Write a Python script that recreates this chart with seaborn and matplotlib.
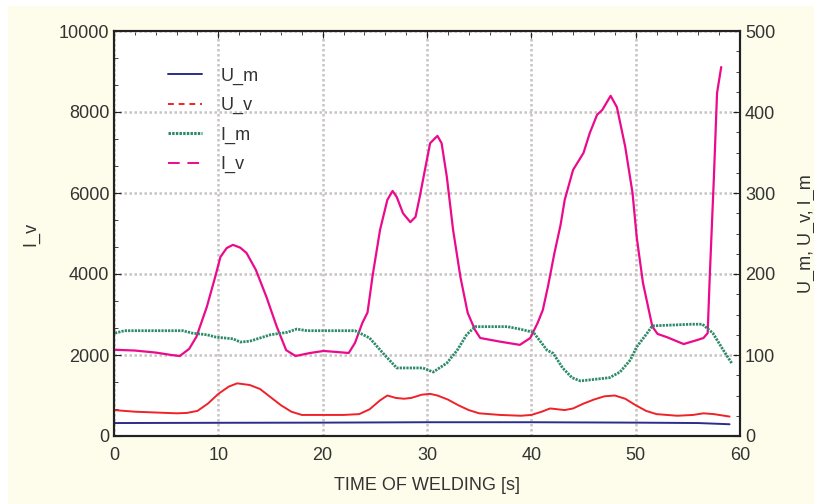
import numpy as np
import pandas as pd
import matplotlib
matplotlib.use("Agg")
import matplotlib.pyplot as plt
from matplotlib.lines import Line2D
from matplotlib.patches import Rectangle
from matplotlib.ticker import MultipleLocator
import seaborn as sns

# values
iv_t = [0, 2, 4, 5.5, 6.3, 7.2, 7.9, 8.9, 9.7, 10.2, 10.8, 11.4, 12.1, 12.7, 13.6, 14.6,
        15.6, 16.5, 17.4, 18.8, 20.1, 22.5, 23.1, 23.8, 24.3, 24.8, 25.5, 26.2, 26.7,
        27.1, 27.7, 28.4, 28.9, 29.3, 29.8, 30.3, 31.0, 31.4, 31.9, 32.5, 33.2, 33.9,
        34.6, 35.1, 37.0, 38.9, 39.9, 40.6, 41.1, 41.6, 42.2, 42.8, 43.2, 44.0, 45.0,
        45.6, 46.3, 46.8, 47.6, 48.2, 49.0, 49.7, 50.1, 50.7, 51.6, 52.1, 53.0, 54.6,
        55.9, 56.5, 56.9, 57.1, 57.5, 57.8, 58.2]
iv_val = [2130, 2110, 2060, 2000, 1975, 2150, 2450, 3190, 3930, 4420, 4640, 4720, 4650,
          4520, 4100, 3440, 2700, 2120, 1975, 2050, 2100, 2050, 2300, 2790, 3050, 3980,
          5090, 5830, 6050, 5900, 5500, 5280, 5410, 5900, 6570, 7230, 7410, 7230, 6400,
          5090, 3930, 3040, 2620, 2420, 2330, 2250, 2420, 2790, 3110, 3700, 4500, 5210,
          5830, 6570, 6990, 7480, 7930, 8050, 8400, 8120, 7140, 6000, 4910, 3780, 2700,
          2520, 2440, 2270, 2370, 2420, 2540, 3930, 6400, 8470, 9110]

im_t = [0.1, 1, 3, 5, 6.6, 7.5, 8.9, 9.8, 11.4, 12.1, 13, 14, 15, 16.6, 17.5, 18.5,
        20, 23.1, 24.5, 25.8, 27.1, 29.6, 30.6, 31.9, 32.9, 33.8, 34.6, 37.7, 38.9,
        40.2, 41.5, 42.1, 43.0, 43.9, 44.7, 47.5, 48.5, 49.5, 50.1, 51.1, 51.6, 55.4,
        56.4, 57.4, 58.4, 59.2]
im_val = [127, 130, 130, 130, 130, 127, 125, 122, 120, 116, 117, 121, 125, 128, 132, 130,
          130, 130, 121, 102, 84, 84, 79, 90, 106, 125, 135, 135, 132, 128, 106, 102,
          84, 72, 68, 72, 79, 94, 110, 127, 136, 138, 138, 127, 106, 90]

uv_t = [0, 2, 4, 6, 7, 8, 9, 10, 11, 11.8, 13, 14, 15, 16, 17, 18, 20, 22, 23.5, 24.5,
        25.5, 26.2, 27, 27.8, 28.5, 29.5, 30.3, 31, 32, 33, 34, 35, 37, 39, 40, 41,
        41.8, 42.5, 43.2, 44, 45, 46, 47, 48, 49, 50, 51, 52, 54, 55.5, 56.5, 57.5,
        58.5, 59]
uv_val = [32, 30, 29, 28, 28.5, 31, 40, 52, 61, 65, 63, 58, 48, 38, 30, 26, 26, 26, 27,
          33, 44, 50, 47, 46, 47, 51, 52, 50, 45, 38, 32, 28, 26, 25, 26, 30, 34, 33,
          32, 34, 40, 45, 49, 50, 46, 38, 31, 27, 25, 26, 28, 27, 25, 24]

um_t = [0, 10, 20, 30, 40, 50, 56, 59]
um_val = [16, 16.3, 16.5, 17, 17, 16.5, 16, 14.5]

sns.set_style("white")
plt.rcParams['font.family'] = ['Liberation Sans', 'DejaVu Sans']

fig = plt.figure(figsize=(8.14, 5.04), dpi=100)
fig.patch.set_facecolor('white')
fig.patches.append(Rectangle((8 / 814, 0), 1, 1 - 6 / 504, transform=fig.transFigure,
                             facecolor='#fefdeb', edgecolor='none', zorder=-10))

ax = fig.add_axes([114 / 814, 68 / 504, 626 / 814, 405 / 504])
ax.set_facecolor('white')
ax2 = ax.twinx()

c_um, c_uv, c_im, c_iv = '#2b2d8c', '#ee2228', '#2e8b68', '#ec0a8c'

sns.lineplot(x=iv_t, y=iv_val, ax=ax, color=c_iv, lw=1.6, zorder=3,
             solid_joinstyle='round')
sns.lineplot(x=um_t, y=um_val, ax=ax2, color=c_um, lw=1.4)
sns.lineplot(x=uv_t, y=uv_val, ax=ax2, color=c_uv, lw=1.4, solid_joinstyle='round')
sns.lineplot(x=im_t, y=im_val, ax=ax2, color=c_im, lw=2.0, ls=(0, (0.8, 0.4)))

ax.set_xlim(0, 60)
ax.set_ylim(0, 10000)
ax2.set_ylim(0, 500)
ax.xaxis.set_major_locator(MultipleLocator(10))
ax.xaxis.set_minor_locator(MultipleLocator(2))
ax.yaxis.set_major_locator(MultipleLocator(2000))
ax.yaxis.set_minor_locator(MultipleLocator(2000 / 3))
ax2.yaxis.set_major_locator(MultipleLocator(100))
ax2.yaxis.set_minor_locator(MultipleLocator(25))

ax.grid(True, which='major', color='#c9c3c3', lw=1.8, ls=(0, (1, 1)))
ax.set_axisbelow(True)
for a in (ax, ax2):
    for s in a.spines.values():
        s.set_color('#222222')
        s.set_linewidth(1.5)
ax.tick_params(which='both', direction='in', top=True, right=False, labelsize=13,
               colors='#222222', labelcolor='#333333')
ax.tick_params(axis='x', pad=8)
ax.tick_params(which='major', length=5)
ax.tick_params(which='minor', length=3)
ax2.tick_params(which='both', direction='in', labelsize=13, colors='#222222',
                labelcolor='#333333')
ax2.tick_params(which='major', length=5)
ax2.tick_params(which='minor', length=3)

ax.set_xlabel('TIME OF WELDING [s]', fontsize=13, color='#333333', labelpad=9)
ax.set_ylabel('I_v', fontsize=13, color='#333333', labelpad=14)
ax2.set_ylabel('U_m, U_v, I_m', fontsize=13, color='#333333', labelpad=16)

handles = [Line2D([], [], color=c_um, lw=1.4),
           Line2D([], [], color=c_uv, lw=1.4, ls=(0, (3, 2.5))),
           Line2D([], [], color=c_im, lw=2.2, ls=(0, (0.8, 0.4))),
           Line2D([], [], color=c_iv, lw=1.4, ls=(0, (6, 4)))]
leg = ax2.legend(handles, ['U_m', 'U_v', 'I_m', 'I_v'], loc='upper left',
                 bbox_to_anchor=(0.06, 0.95), frameon=False, fontsize=13,
                 handlelength=1.9, labelspacing=0.68, handletextpad=1.0)
for t in leg.get_texts():
    t.set_color('#333333')

fig.savefig('out.png', dpi=100, facecolor=fig.get_facecolor())
